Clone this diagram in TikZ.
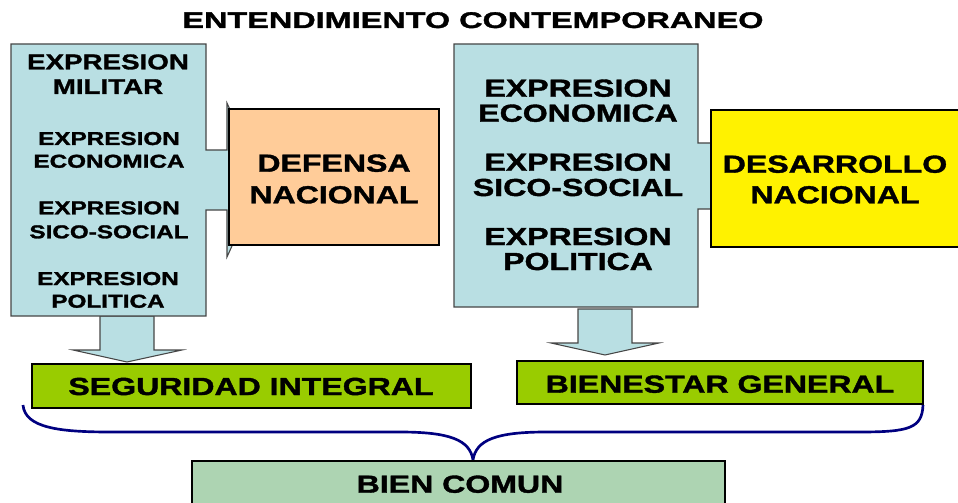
\documentclass[tikz,border=0pt]{standalone}
\usepackage{fontspec}
\setmainfont{Liberation Sans}[FakeStretch=1.3, BoldFeatures={FakeBold=1.5}]
\newfontfamily\titlefont{Liberation Sans}[FakeStretch=1.43, BoldFeatures={FakeBold=1.5}]
\begin{document}
\begin{tikzpicture}[x=0.75pt, y=-0.75pt,
    expbig/.style={anchor=base, inner sep=0pt, font=\bfseries\fontsize{16}{19}\selectfont},
    expsmall/.style={anchor=base, inner sep=0pt, font=\bfseries\fontsize{14}{17}\selectfont},
    bigtxt/.style={anchor=base, inner sep=0pt, font=\bfseries\fontsize{18.5}{22}\selectfont},
    callout/.style={draw=edgegrey, fill=calloutblue, line width=0.8pt},
    boxed/.style={draw=black, line width=2.2pt}]
        \definecolor{calloutblue}{RGB}{185,223,227}
        \definecolor{peach}{RGB}{255,204,153}
        \definecolor{lime}{RGB}{153,204,0}
        \definecolor{sage}{RGB}{173,212,178}
        \definecolor{navy}{RGB}{0,0,128}
        \definecolor{edgegrey}{RGB}{70,70,70}
        \useasboundingbox (0,0) rectangle (958,503);

        \node[anchor=base, inner sep=0pt, font=\titlefont\bfseries\fontsize{17}{20}\selectfont] (title) at (473,28) {ENTENDIMIENTO CONTEMPORANEO};

        % left callout and its arrow
        \draw[callout] (100,316) -- (154,316) -- (154,350) -- (182,350) -- (127,362) -- (73,350) -- (100,350) -- cycle;
        \draw[callout] (11,44) -- (206,44) -- (206,150) -- (227,150) -- (227,103) -- (262,180) -- (227,257) -- (227,210) -- (206,210) -- (206,316) -- (11,316) -- cycle;
        \node[expbig] (mil1) at (108,69.3) {EXPRESION};
        \node[expbig] (mil2) at (108,94) {MILITAR};
        \node[expsmall] (eco1) at (109,145) {EXPRESION};
        \node[expsmall] (eco2) at (109,167.7) {ECONOMICA};
        \node[expsmall] (sico1) at (109,214.3) {EXPRESION};
        \node[expsmall] (sico2) at (109,238.3) {SICO-SOCIAL};
        \node[expsmall] (pol1) at (108,285) {EXPRESION};
        \node[expsmall] (pol2) at (108,307.7) {POLITICA};

        \draw[boxed, fill=peach] (229,109) rectangle (439,245);
        \node[bigtxt] (def1) at (334,171.7) {DEFENSA};
        \node[bigtxt] (def2) at (334,203.3) {NACIONAL};

        % right callout and its arrow
        \draw[callout] (578,309) -- (632,309) -- (632,343) -- (659,343) -- (605,355) -- (551,343) -- (578,343) -- cycle;
        \draw[callout] (454,44) -- (698,44) -- (698,143) -- (713,143) -- (713,118) -- (745,176) -- (713,236) -- (713,209) -- (698,209) -- (698,307) -- (454,307) -- cycle;
        \node[bigtxt] (reco1) at (578,96.7) {EXPRESION};
        \node[bigtxt] (reco2) at (578,121.7) {ECONOMICA};
        \node[bigtxt] (rsico1) at (578,170.7) {EXPRESION};
        \node[bigtxt] (rsico2) at (578,196) {SICO-SOCIAL};
        \node[bigtxt] (rpol1) at (578,245) {EXPRESION};
        \node[bigtxt] (rpol2) at (578,270) {POLITICA};

        \draw[boxed, fill=yellow] (711,110) rectangle (962,247);
        \node[bigtxt] (des1) at (835,172.7) {DESARROLLO};
        \node[bigtxt] (des2) at (835,203.3) {NACIONAL};

        % results
        \draw[boxed, fill=lime] (32,364) rectangle (471,408);
        \node[bigtxt] (seg) at (251,395) {SEGURIDAD INTEGRAL};
        \draw[boxed, fill=lime] (517,361) rectangle (923,404);
        \node[bigtxt] (bien) at (720,392.7) {BIENESTAR GENERAL};

        \coordinate (braceL) at (23,405);
        \coordinate (braceR) at (923,405);
        \coordinate (braceTip) at (473,460);
        \draw[navy, line width=2pt] (braceL) .. controls (25,428) and (60,432) .. (110,432) -- (400,432)
            .. controls (450,432) and (470,440) .. (braceTip)
            .. controls (476,440) and (496,432) .. (546,432) -- (860,432)
            .. controls (910,432) and (922,428) .. (braceR);

        \draw[draw=black, line width=1.8pt, fill=sage] (192,461) rectangle (725,512);
        \node[bigtxt] (comun) at (460,492.7) {BIEN COMUN};

\end{tikzpicture}
\end{document}
